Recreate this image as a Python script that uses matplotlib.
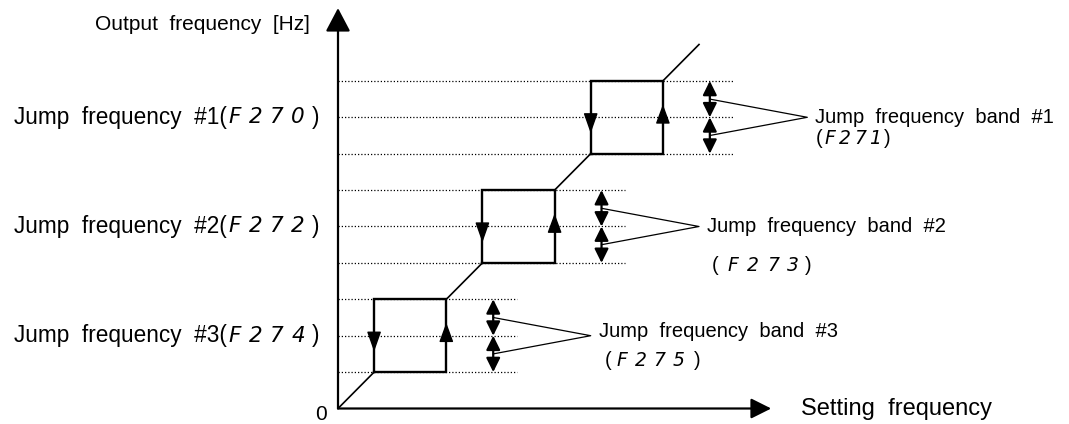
import matplotlib
matplotlib.use("Agg")
import matplotlib.pyplot as plt

# jump frequencies (#1, #2, #3) and their half bands, in setting-frequency units
jump_freq = [8, 5, 2]
band_half = [1, 1, 1]
max_freq = 10
jump_names = ["Jump  frequency  #1(", "Jump  frequency  #2(", "Jump  frequency  #3("]
jump_codes = ["F270", "F272", "F274"]
band_names = ["Jump  frequency  band  #1", "Jump  frequency  band  #2", "Jump  frequency  band  #3"]
band_codes = ["F271", "F273", "F275"]
y_title = "Output  frequency  [Hz]"
x_title = "Setting  frequency"

# pixel scale of one unit
SX, SY = 36.1, 36.4
X0, Y0 = 338, 408.5
W, H = 1069, 424

fig = plt.figure(figsize=(W / 100, H / 100), dpi=100)
ax = fig.add_axes([0, 0, 1, 1])
ax.set_xlim(-X0 / SX, (W - X0) / SX)
ax.set_ylim(-(H - Y0) / SY, Y0 / SY)
ax.axis('off')

plt.rcParams['font.family'] = ['Liberation Sans', 'DejaVu Sans']
FONT = 'Liberation Sans'
SEG = dict(family='DejaVu Sans', style='oblique', color='k')


def dx(p):
    return p / SX


def dy(p):
    return p / SY


# axes with arrow heads
ax.annotate('', xy=(0, 11), xytext=(0, 0),
            arrowprops=dict(arrowstyle='-|>,head_length=0.72,head_width=0.38',
                            mutation_scale=20, lw=1.6, color='k', shrinkA=0, shrinkB=0))
ax.annotate('', xy=(12, 0), xytext=(0, 0),
            arrowprops=dict(arrowstyle='-|>,head_length=0.62,head_width=0.31',
                            mutation_scale=20, lw=1.6, color='k', shrinkA=0, shrinkB=0))

# diagonal pieces of the characteristic
lows = sorted(jump_freq)
halfs = [b for _, b in sorted(zip(jump_freq, band_half))]
prev = 0
for c, b in zip(lows, halfs):
    ax.plot([prev, c - b], [prev, c - b], color='k', lw=1.2, solid_capstyle='butt')
    prev = c + b
ax.plot([prev, max_freq], [prev, max_freq], color='k', lw=1.2)

# band labels layout: (dx from text start of "(", dy below, first char offset, pitch, close offset) in px
band_layout = [(0, 21, 15, 15, 9), (5, 39, 21, 20, 12), (6, 25, 17, 19, 15)]
band_dy = [0, 0, 4]

for i, (c, b) in enumerate(zip(jump_freq, band_half)):
    lo, hi = c - b, c + b
    arr_x = hi + 1.3
    apex_x = arr_x + 2.7
    # dotted reference lines
    for lvl in (lo, c, hi):
        ax.plot([0, arr_x + 0.65], [lvl, lvl], color='k', lw=0.9,
                linestyle=(0, (1, 1.6)))
    # jump box
    ax.plot([lo, hi, hi, lo, lo], [lo, lo, hi, hi, lo], color='k', lw=1.7,
            solid_joinstyle='miter')
    ax.annotate('', xy=(lo, c - dy(16)), xytext=(lo, c + dy(4)),
                arrowprops=dict(arrowstyle='-|>,head_length=1.25,head_width=0.44',
                                mutation_scale=10, lw=1.0, color='k', shrinkA=0, shrinkB=0))
    ax.annotate('', xy=(hi, c + dy(13)), xytext=(hi, c - dy(6)),
                arrowprops=dict(arrowstyle='-|>,head_length=1.2,head_width=0.44',
                                mutation_scale=10, lw=1.0, color='k', shrinkA=0, shrinkB=0))
    # band double arrows
    for a, bb in ((hi, c), (c, lo)):
        ax.annotate('', xy=(arr_x, a), xytext=(arr_x, bb),
                    arrowprops=dict(arrowstyle='<|-|>,head_length=0.85,head_width=0.42',
                                    mutation_scale=10, lw=1.6, color='k', shrinkA=0, shrinkB=0))
    # callout
    ax.plot([arr_x, apex_x, arr_x], [c + 0.5 * b, c, c - 0.5 * b], color='k', lw=0.9)

    # left label
    ly = c
    ax.text(-dx(338 - 227), ly, jump_names[i], ha='right', va='center',
            fontsize=16.3, family=FONT)
    for k, ch in enumerate(jump_codes[i]):
        ax.text(-dx(338 - 235) + dx(21 * k), ly, ch, ha='center', va='center',
                fontsize=15.5, **SEG)
    ax.text(-dx(338 - 312), ly, ')', ha='left', va='center', fontsize=16.3, family=FONT)

    # band label
    tx = apex_x + dx(8)
    ty = c + dy(band_dy[i])
    ax.text(tx, ty, band_names[i], ha='left', va='center', fontsize=14.5, family=FONT)
    ox, oy, f0, pitch, close = band_layout[i]
    by = c - dy(oy)
    bx = tx + dx(ox)
    ax.text(bx, by, '(', ha='left', va='center', fontsize=14.5, family=FONT)
    for k, ch in enumerate(band_codes[i]):
        ax.text(bx + dx(f0 + pitch * k), by, ch, ha='center', va='center',
                fontsize=13.5, **SEG)
    ax.text(bx + dx(f0 + pitch * 3 + close), by, ')', ha='left', va='center',
            fontsize=14.5, family=FONT)

# axis titles
ax.text(-dx(28), dy(Y0 - 25), y_title, ha='right', va='center', fontsize=15, family=FONT)
ax.text(12 + dx(30), 0, x_title, ha='left', va='center', fontsize=17, family=FONT)
ax.text(-dx(17), -dy(6), '0', ha='center', va='center', fontsize=15, family=FONT)

fig.savefig('out.png', dpi=100)
